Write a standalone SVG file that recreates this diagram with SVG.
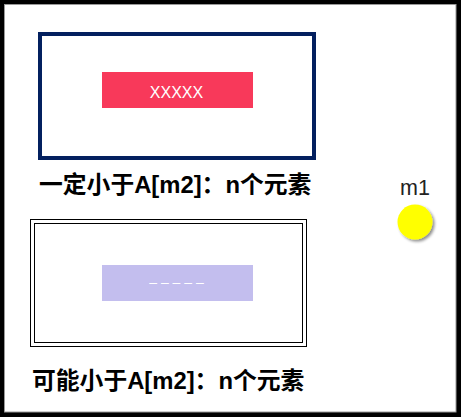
<svg xmlns="http://www.w3.org/2000/svg" width="461" height="417" viewBox="0 0 461 417">
<style>
.lbl{font-family:"Liberation Sans","Noto Sans CJK SC",sans-serif;font-weight:bold;font-size:23.8px;fill:#000}
.inner{font-family:"Liberation Sans","Noto Sans CJK SC",sans-serif;font-size:16px;fill:#fff;text-anchor:middle}
</style>
<defs>
<filter id="sh" x="-50%" y="-50%" width="200%" height="200%">
<feGaussianBlur in="SourceAlpha" stdDeviation="1.5"/>
<feOffset dx="2" dy="2" result="b"/>
<feComponentTransfer><feFuncA type="linear" slope="0.45"/></feComponentTransfer>
<feMerge><feMergeNode/><feMergeNode in="SourceGraphic"/></feMerge>
</filter>
</defs>
<rect x="0" y="0" width="461" height="417" fill="#000"/>
<rect x="4.5" y="4.5" width="451.5" height="407.5" fill="#fff" stroke="#999" stroke-width="1"/>
<g id="box1">
<rect x="40" y="34" width="274" height="124" fill="#fff" stroke="#03205F" stroke-width="4"/>
<rect x="102" y="72" width="151" height="36" fill="#F8395A"/>
<text class="inner" x="176.5" y="98">XXXXX</text>
</g>
<g id="label1"><text class="lbl" x="39" y="193">一定小于A[m2]：n个元素</text></g>
<g id="box2">
<rect x="30.5" y="219.5" width="276" height="127" fill="#fff" stroke="#000" stroke-width="1"/>
<rect x="34.5" y="223.5" width="268" height="119" fill="none" stroke="#000" stroke-width="1"/>
<rect x="102" y="265" width="151" height="36" fill="#C3BEEE"/>
<text class="inner" x="176.5" y="287" style="font-size:14px">– – – – –</text>
</g>
<g id="label2"><text class="lbl" x="32" y="389">可能小于A[m2]：n个元素</text></g>
<g id="m1">
<text x="415" y="195" text-anchor="middle" font-family="Liberation Sans, sans-serif" font-size="21.5" fill="#222">m1</text>
<circle cx="415" cy="222" r="17.5" fill="#FFFF00" filter="url(#sh)"/>
</g>
<g id="connectors"></g>
</svg>
